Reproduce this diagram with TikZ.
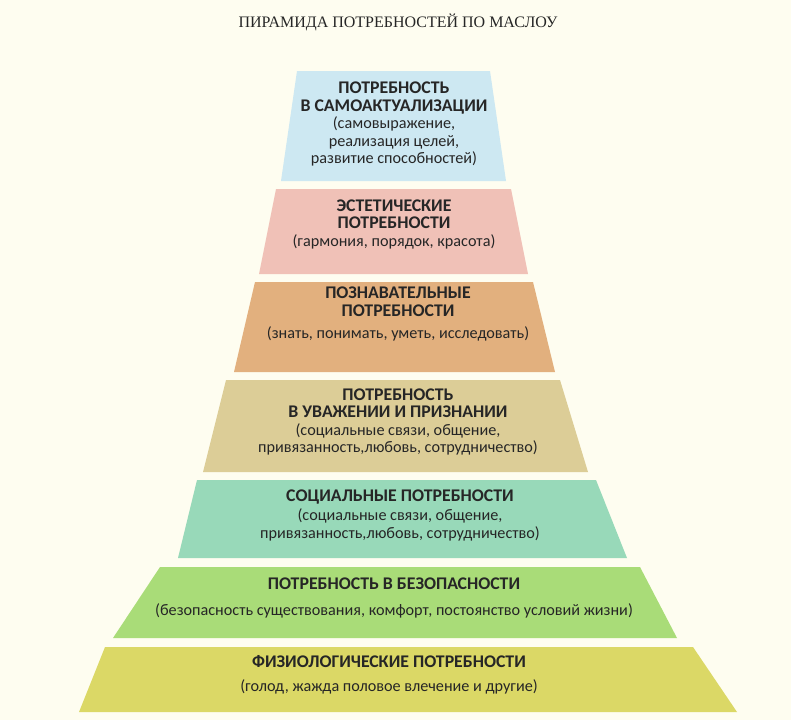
\documentclass[tikz,border=0pt]{standalone}
\usepackage{fontspec}
\setmainfont{Carlito}
\newfontfamily\titlefont{Liberation Serif}
\definecolor{bgcol}{HTML}{FEFDF0}
\definecolor{tierA}{HTML}{CDE8F2}
\definecolor{tierB}{HTML}{F0C1B7}
\definecolor{tierC}{HTML}{E2B07E}
\definecolor{tierD}{HTML}{DCCD97}
\definecolor{tierE}{HTML}{98D9B9}
\definecolor{tierF}{HTML}{A9DC78}
\definecolor{tierG}{HTML}{DBD866}
\tikzset{
  lbl/.style = {align=center, text=black!85, font=\fontsize{16.2}{17.5}\selectfont, inner sep=0pt},
}
\newcommand{\hd}[1]{{\bfseries\fontsize{17.8}{19}\selectfont #1}}
\begin{document}
\begin{tikzpicture}[x=1pt, y=-1pt]

%% Background
\fill [bgcol] (0,0) rectangle (791,720);
\useasboundingbox (0,0) rectangle (791,720);

%% Title
\node (title) [font=\titlefont\fontsize{16}{18}\selectfont, text=black!85] at (398,22) {ПИРАМИДА ПОТРЕБНОСТЕЙ ПО МАСЛОУ};

%% Tiers
\fill [tierA] (297,71) -- (490,71) -- (506,181) -- (281,181) -- cycle;
\fill [tierB] (276,189) -- (511,189) -- (528,274) -- (259,274) -- cycle;
\fill [tierC] (255,282) -- (533,282) -- (555,372) -- (234,372) -- cycle;
\fill [tierD] (226,380) -- (560,380) -- (588,472) -- (203,472) -- cycle;
\fill [tierE] (197,480) -- (596,480) -- (627,558) -- (178,558) -- cycle;
\fill [tierF] (160,567) -- (640,567) -- (677,638) -- (113,638) -- cycle;
\fill [tierG] (105,647) -- (693,647) -- (737,712) -- (79,712) -- cycle;

%% Labels
\node (selfact) [lbl] at (394,124) {\hd{ПОТРЕБНОСТЬ}\\\hd{В САМОАКТУАЛИЗАЦИИ}\\(самовыражение,\\реализация целей,\\развитие способностей)};
\node (aesth) [lbl] at (394,224) {\hd{ЭСТЕТИЧЕСКИЕ}\\\hd{ПОТРЕБНОСТИ}\\(гармония, порядок, красота)};
\node (cogn) [lbl] at (398,314) {\hd{ПОЗНАВАТЕЛЬНЫЕ}\\\hd{ПОТРЕБНОСТИ}\\[5pt](знать, понимать, уметь, исследовать)};
\node (esteem) [lbl] at (398,422) {\hd{ПОТРЕБНОСТЬ}\\\hd{В УВАЖЕНИИ И ПРИЗНАНИИ}\\(социальные связи, общение,\\привязанность,любовь, сотрудничество)};
\node (social) [lbl] at (400,515) {\hd{СОЦИАЛЬНЫЕ ПОТРЕБНОСТИ}\\[2pt](социальные связи, общение,\\привязанность,любовь, сотрудничество)};
\node (safety) [lbl] at (394,598) {\hd{ПОТРЕБНОСТЬ В БЕЗОПАСНОСТИ}\\[8pt](безопасность существования, комфорт, постоянство условий жизни)};
\node (physio) [lbl] at (389,675) {\hd{ФИЗИОЛОГИЧЕСКИЕ ПОТРЕБНОСТИ}\\[6pt](голод, жажда половое влечение и другие)};

\end{tikzpicture}
\end{document}
